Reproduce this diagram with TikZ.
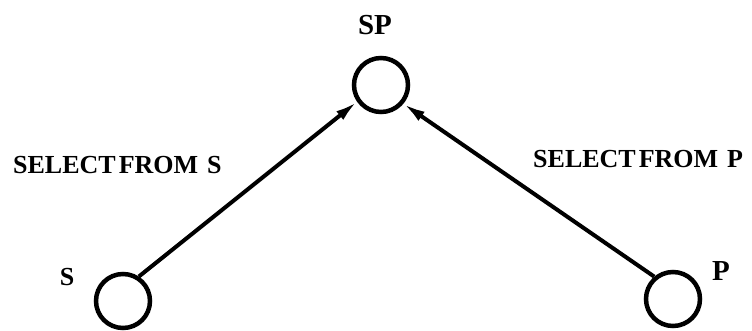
\documentclass[tikz,border=0pt]{standalone}
\usepackage{fontspec}
\setmainfont{Liberation Serif}
\usetikzlibrary{arrows.meta}
\tikzset{
  vertex/.style={circle, draw, line width=4.5pt, minimum size=54pt, inner sep=0pt},
  lbl/.style={font=\fontsize{26}{31}\selectfont\bfseries, inner sep=0pt},
  big/.style={font=\fontsize{29}{34}\selectfont\bfseries, inner sep=0pt},
  edge/.style={line width=4pt, -{Latex[length=22pt,width=11pt]}}
}
\begin{document}
\begin{tikzpicture}[x=1pt,y=-1pt]
\useasboundingbox (0,0) rectangle (752,331);
\node[vertex] (SP) at (381,85) {};
\node[vertex] (S) at (123,301) {};
\node[vertex] (P) at (673,299) {};
\node[big, anchor=base] (lSP) at (375,35) {SP};
\node[lbl, anchor=base] (lS) at (67,285) {S};
\node[big, anchor=base] (lP) at (721,280) {P};
\node[lbl, anchor=base west] (eS) at (13,174) {SELECT\hspace{3pt}FROM\hspace{9pt}S};
\node[lbl, anchor=base west] (eP) at (533,168) {SELECT\hspace{3pt}FROM\hspace{9pt}P};
\draw[edge] (S.57) -- (SP.215);
\draw[edge] (P.130) -- (SP.320);
\end{tikzpicture}
\end{document}
